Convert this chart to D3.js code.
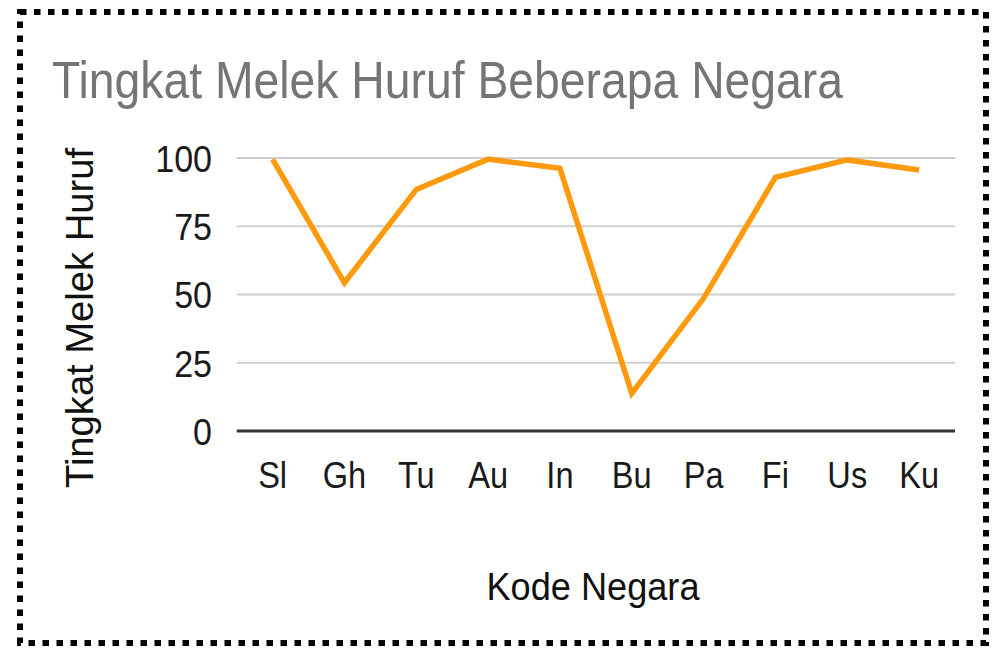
<!DOCTYPE html>
<html><head><meta charset="utf-8">
<script src="https://cdn.jsdelivr.net/npm/d3@7"></script>
<style>body{margin:0;background:#fff}svg{display:block}text{font-family:"Liberation Sans",Arial,sans-serif}</style>
</head><body>
<script>
const categories = ["Sl","Gh","Tu","Au","In","Bu","Pa","Fi","Us","Ku"];
const literacy = [99.5,54.3,88.5,99.6,96.2,13.8,48.6,92.9,99.3,95.6];
const yTicks = [0,25,50,75,100];
const chartTitle = "Tingkat Melek Huruf Beberapa Negara";
const xTitle = "Kode Negara";
const yTitle = "Tingkat Melek Huruf";

(function(){
const W = 1005, H = 658;
const svg = d3.select("body").append("svg").attr("width", W).attr("height", H);
svg.append("rect").attr("width", W).attr("height", H).attr("fill", "#fff");

// dotted border
svg.append("rect").attr("x", 20).attr("y", 12).attr("width", 966).attr("height", 631)
  .attr("fill", "none").attr("stroke", "#000").attr("stroke-width", 6)
  .attr("stroke-dasharray", "6.5 7.5");

const pL = 236.7, pR = 955, pT = 158, pB = 431;
const x = d3.scaleBand().domain(categories).range([pL, pR]).padding(0);
const y = d3.scaleLinear().domain([0, 100]).range([pB, pT]);

function condense(sel, f) {
  sel.each(function() {
    const w = this.getComputedTextLength();
    d3.select(this).attr("textLength", w * f).attr("lengthAdjust", "spacingAndGlyphs");
  });
}

// gridlines
svg.append("g").selectAll("line").data(yTicks.filter(d => d > 0)).join("line")
  .attr("x1", pL).attr("x2", pR)
  .attr("y1", d => y(d)).attr("y2", d => y(d))
  .attr("stroke", "#cfcfcf").attr("stroke-width", 2);

// y axis labels
const yAxis = d3.axisLeft(y).tickValues(yTicks).tickSize(0).tickPadding(0);
const gy = svg.append("g").attr("transform", `translate(212,0)`).call(yAxis);
gy.select(".domain").remove();
gy.selectAll("text").attr("font-size", 37).attr("fill", "#1a1a1a")
  .attr("font-family", '"Liberation Sans",Arial,sans-serif').attr("dy", "0.36em");
condense(gy.selectAll("text"), 0.92);

// baseline
svg.append("line").attr("x1", pL).attr("x2", pR).attr("y1", y(0)).attr("y2", y(0))
  .attr("stroke", "#333").attr("stroke-width", 3);

// x axis labels
const xAxis = d3.axisBottom(x).tickSize(0).tickPadding(0);
const gx = svg.append("g").attr("transform", `translate(0,462)`).call(xAxis);
gx.select(".domain").remove();
gx.selectAll("text").attr("font-size", 37).attr("fill", "#1a1a1a")
  .attr("font-family", '"Liberation Sans",Arial,sans-serif').attr("dy", "0.71em");
condense(gx.selectAll("text"), 0.88);

// line
const line = d3.line().x((d, i) => x(categories[i]) + x.bandwidth() / 2).y(d => y(d));
svg.append("path").datum(literacy).attr("d", line)
  .attr("fill", "none").attr("stroke", "#ff9a0f").attr("stroke-width", 5.5)
  .attr("stroke-linejoin", "miter");

// titles
svg.append("text").attr("x", 52).attr("y", 98).text(chartTitle)
  .attr("font-size", 52).attr("fill", "#757575")
  .attr("textLength", 791).attr("lengthAdjust", "spacingAndGlyphs");

svg.append("text").attr("x", 593).attr("y", 600).attr("text-anchor", "middle").text(xTitle)
  .attr("font-size", 38).attr("fill", "#111")
  .attr("textLength", 213).attr("lengthAdjust", "spacingAndGlyphs");

svg.append("text").attr("transform", "translate(93,318) rotate(-90)").attr("text-anchor", "middle").text(yTitle)
  .attr("font-size", 38).attr("fill", "#111")
  .attr("textLength", 340).attr("lengthAdjust", "spacingAndGlyphs");
})();
</script>
</body></html>
